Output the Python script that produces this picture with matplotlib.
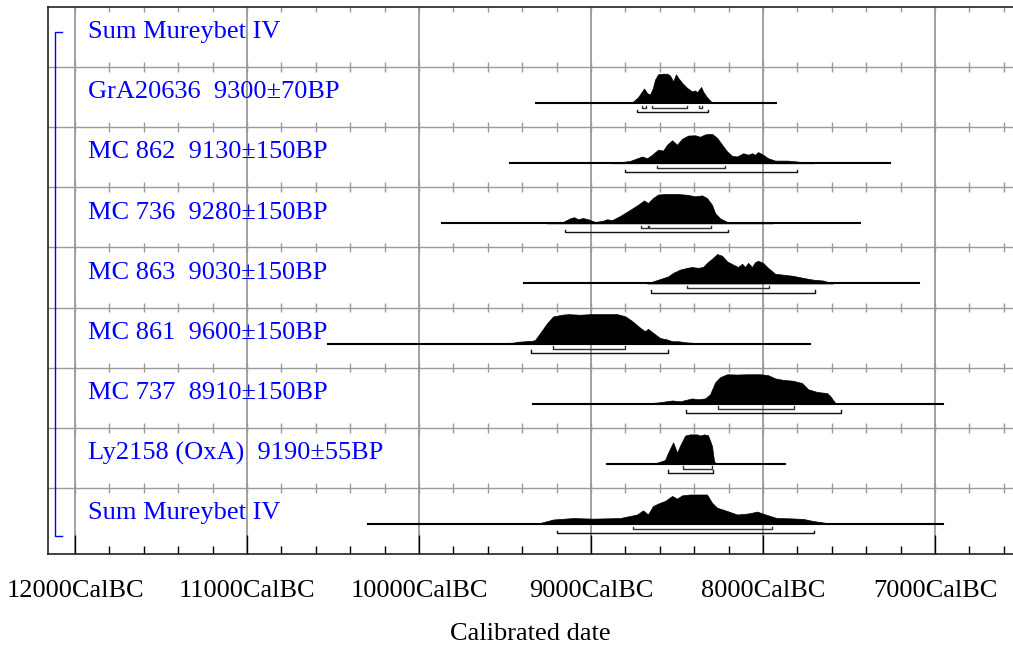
import numpy as np
import matplotlib
matplotlib.use("Agg")
import matplotlib.pyplot as plt

plt.rcParams['font.family'] = ['Liberation Serif', 'DejaVu Serif']

# Row labels, top to bottom
labels = ["Sum Mureybet IV",
          "GrA20636  9300\u00b170BP",
          "MC 862  9130\u00b1150BP",
          "MC 736  9280\u00b1150BP",
          "MC 863  9030\u00b1150BP",
          "MC 861  9600\u00b1150BP",
          "MC 737  8910\u00b1150BP",
          "Ly2158 (OxA)  9190\u00b155BP",
          "Sum Mureybet IV"]

# Calibrated probability outlines (years cal BC, relative probability)
gra_years = [8791, 8756, 8727, 8703, 8692, 8674, 8657, 8640, 8628, 8610, 8581, 8558, 8541,
             8523, 8506, 8494, 8471, 8442, 8413, 8395, 8384, 8360, 8349, 8326, 8297, 8279]
gra_prob = [0, .05, .2, .4, .5, .34, .29, .52, .8, .98, 1.0, 1.0, .94,
            .74, .98, .86, .69, .52, .4, .43, .37, .55, .4, .2, .02, 0]
gra_span = (9320, 7924)
gra_r68 = [(8703, 8680), (8645, 8442), (8372, 8355)]
gra_r95 = [(8733, 8320)]

mc862_years = [8872, 8773, 8703, 8674, 8645, 8610, 8581, 8558, 8529, 8500, 8471, 8436, 8395,
               8366, 8337, 8297, 8267, 8238, 8209, 8180, 8151, 8116, 8087, 8064, 8047, 8029,
               8000, 7971, 7930, 7860, 7802, 7744, 7709]
mc862_prob = [0, .08, .23, .17, .29, .46, .43, .63, .78, .63, .83, .94, .95,
              .9, .98, 1.0, .86, .63, .4, .25, .23, .34, .29, .34, .29, .38,
              .29, .17, .09, .09, .06, .01, 0]
mc862_span = (9471, 7262)
mc862_r68 = [(8616, 8221)]
mc862_r95 = [(8802, 7802)]

mc736_years = [9256, 9163, 9122, 9099, 9076, 9047, 9017, 8977, 8936, 8907, 8878, 8831, 8773,
               8727, 8692, 8669, 8640, 8610, 8558, 8500, 8442, 8395, 8355, 8326, 8297, 8279,
               8250, 8209, 8174, 8058, 8000, 7942]
mc736_prob = [0, .05, .17, .21, .14, .18, .14, .05, .08, .14, .11, .25, .46,
              .63, .78, .69, .86, .98, 1.0, 1.0, .97, .92, .95, .86, .63, .35,
              .17, .05, .02, .03, .03, 0]
mc736_span = (9866, 7436)
mc736_r68 = [(8709, 8669), (8663, 8302)]
mc736_r95 = [(9151, 8203)]

mc863_years = [8674, 8640, 8599, 8552, 8523, 8483, 8442, 8413, 8378, 8349, 8326, 8297, 8267,
               8238, 8209, 8174, 8145, 8122, 8105, 8087, 8064, 8047, 8029, 8000, 7971, 7930,
               7884, 7826, 7767, 7709, 7651, 7593]
mc863_prob = [0, .07, .15, .24, .36, .47, .53, .56, .53, .56, .7, .84, 1.0,
              .94, .75, .64, .56, .67, .56, .7, .56, .72, .77, .7, .53, .33,
              .3, .26, .19, .13, .1, 0]
mc863_span = (9390, 7093)
mc863_r68 = [(8442, 7965)]
mc863_r95 = [(8651, 7698)]

mc861_years = [9721, 9453, 9430, 9337, 9326, 9297, 9256, 9221, 9169, 9134, 9064, 9006, 8930,
               8849, 8802, 8762, 8715, 8686, 8669, 8640, 8599, 8558, 8529, 8494, 8442, 8326]
mc861_prob = [0, .03, .06, .1, .12, .35, .69, .92, .98, 1.0, .98, 1.0, 1.0,
              1.0, .93, .77, .54, .42, .5, .37, .19, .14, .08, .08, .04, 0]
mc861_span = (10529, 7727)
mc861_r68 = [(9221, 8802)]
mc861_r95 = [(9349, 8552)]

mc737_years = [8698, 8599, 8529, 8483, 8413, 8378, 8337, 8308, 8279, 8250, 8209, 8151, 8093,
               8017, 7971, 7930, 7884, 7826, 7773, 7738, 7686, 7628, 7610, 7581, 7552]
mc737_prob = [0, .05, .11, .08, .18, .15, .18, .32, .72, .9, 1.0, .99, 1.0,
              1.0, .97, .86, .81, .78, .7, .49, .4, .36, .26, .03, 0]
mc737_span = (9337, 6955)
mc737_r68 = [(8262, 7820)]
mc737_r95 = [(8448, 7547)]

ly_years = [8640, 8599, 8570, 8552, 8523, 8500, 8483, 8453, 8424, 8384, 8366, 8343, 8320,
            8297, 8285, 8273]
ly_prob = [0, .07, .13, .38, .73, .38, .61, .96, 1.0, 1.0, .96, 1.0, .97,
           .61, .09, 0]
ly_span = (8907, 7872)
ly_r68 = [(8465, 8297)]
ly_r95 = [(8552, 8291)]

sum_years = [9413, 9297, 9221, 9105, 8988, 8831, 8733, 8698, 8669, 8640, 8599, 8570, 8529,
             8500, 8471, 8424, 8326, 8297, 8267, 8209, 8151, 8093, 8064, 8035, 8000, 7959,
             7919, 7843, 7767, 7709, 7593]
sum_prob = [0, .03, .15, .2, .18, .2, .32, .46, .32, .61, .72, .78, .95,
            .86, .97, 1.0, 1.0, .72, .55, .44, .32, .35, .38, .42, .35, .27,
            .2, .19, .17, .1, 0]
sum_span = (10297, 6955)
sum_r68 = [(8756, 7948)]
sum_r95 = [(9198, 7703)]

dists = [
    (1, gra_years, gra_prob, gra_span, gra_r68, gra_r95),
    (2, mc862_years, mc862_prob, mc862_span, mc862_r68, mc862_r95),
    (3, mc736_years, mc736_prob, mc736_span, mc736_r68, mc736_r95),
    (4, mc863_years, mc863_prob, mc863_span, mc863_r68, mc863_r95),
    (5, mc861_years, mc861_prob, mc861_span, mc861_r68, mc861_r95),
    (6, mc737_years, mc737_prob, mc737_span, mc737_r68, mc737_r95),
    (7, ly_years, ly_prob, ly_span, ly_r68, ly_r95),
    (8, sum_years, sum_prob, sum_span, sum_r68, sum_r95),
]

major_years = [12000, 11000, 10000, 9000, 8000, 7000]
tick_labels = [f"{y}CalBC" for y in major_years]

fig = plt.figure(figsize=(10.13, 6.51), dpi=100)
ax = fig.add_axes([0.0474, 0.149, 0.9526, 0.8403])
n_rows = len(labels)
x_left, x_right = 12157, 6547

grid_col = '#9a9a9a'
# vertical grid every 1000 years
for yr in major_years:
    ax.axvline(yr, color=grid_col, lw=1.3, zorder=0)
# row separators with small crossing ticks every 200 years
minor_years = np.arange(12000, 6500, -200)
for i in range(n_rows):
    if i > 0:
        ax.axhline(i, color=grid_col, lw=1.0, zorder=0)
    ax.vlines(minor_years, i - 0.08, i + 0.08, color=grid_col, lw=1.0, zorder=0)

base_off = 0.6
peak = 0.49
for row, yrs, prob, span, r68, r95 in dists:
    base = row + base_off
    yrs = np.array(yrs, dtype=float)
    prob = np.array(prob, dtype=float)
    ax.plot(span, [base, base], color='black', lw=1.5, zorder=2)
    ax.fill_between(yrs, base, base - peak * prob, color='black', lw=0.5, zorder=3)
    for off, rngs, col in ((0.083, r68, '#333333'), (0.15, r95, '#111111')):
        for a, b in rngs:
            ax.plot([a, a, b, b], [base + off - 0.04, base + off, base + off, base + off - 0.04],
                    color=col, lw=1.0, zorder=3)

for i, lab in enumerate(labels):
    ax.text(11925, i + 0.42, lab, color='#0000ff', fontsize=19, va='center', ha='left', zorder=4)

# group bracket for the sum
ax.plot([12076, 12116, 12116, 12076], [0.42, 0.42, 8.8, 8.8], color='#0000ff', lw=1.0,
        clip_on=False, zorder=4)

ax.set_xticks(major_years)
ax.set_xticklabels(tick_labels, fontsize=19)
ax.set_xticks(minor_years, minor=True)
ax.tick_params(axis='x', which='major', direction='in', length=14, width=1, pad=19, colors='black')
ax.tick_params(axis='x', which='minor', direction='in', length=6, width=1)
ax.set_yticks([])
ax.set_xlabel("Calibrated date", fontsize=19, labelpad=15)
ax.set_xlim(x_left, x_right)
ax.set_ylim(9.1, 0)

for side in ('left', 'bottom', 'top'):
    ax.spines[side].set_color('#222222')
    ax.spines[side].set_linewidth(1.2)
ax.spines['right'].set_visible(False)

fig.savefig("out.png", dpi=100)
